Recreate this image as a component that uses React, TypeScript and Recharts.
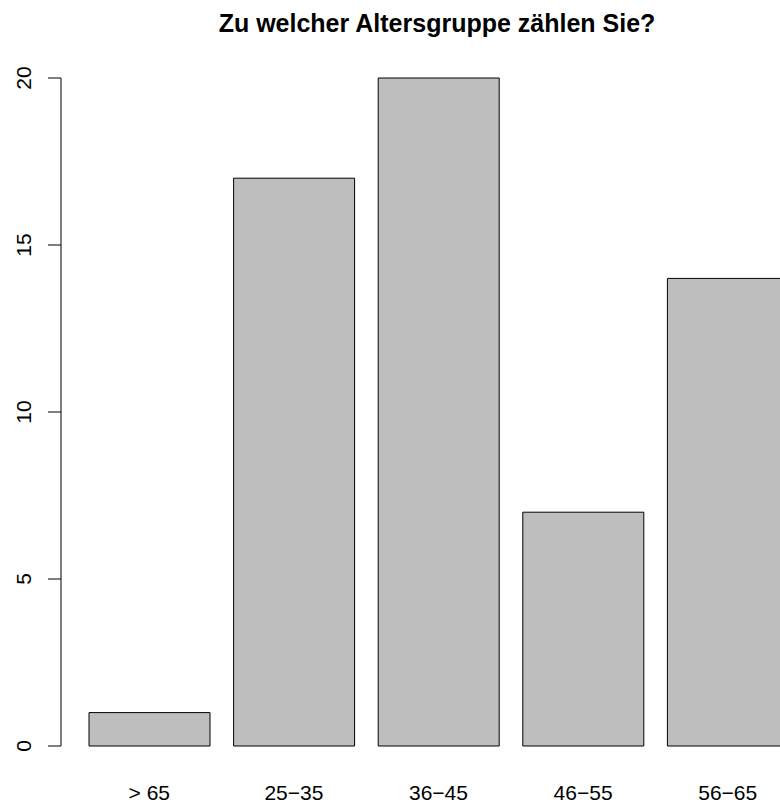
import { Bar, BarChart, XAxis, YAxis } from "recharts";

const ageGroups = ["> 65", "25−35", "36−45", "46−55", "56−65"];
const respondents = [1, 17, 20, 7, 14];
const countTicks = [0, 5, 10, 15, 20];

const TITLE = "Zu welcher Altersgruppe zählen Sie?";
const FONT = "'Liberation Sans', Arial, Helvetica, sans-serif";

const data = ageGroups.map((group, i) => ({ group, count: respondents[i] }));

function CountTick({ x, y, payload }: { x?: number; y?: number; payload?: { value: number } }) {
  if (x == null || y == null || !payload) return null;
  return (
    <text
      x={x}
      y={y}
      transform={`rotate(-90, ${x}, ${y})`}
      textAnchor="middle"
      fontSize={21}
      fontFamily={FONT}
      fill="#000"
    >
      {payload.value}
    </text>
  );
}

function GroupTick({ x, y, payload }: { x?: number; y?: number; payload?: { value: string } }) {
  if (x == null || y == null || !payload) return null;
  return (
    <text x={x} y={y} textAnchor="middle" fontSize={21} fontFamily={FONT} fill="#000">
      {payload.value}
    </text>
  );
}

export default function App() {
  return (
    <div style={{ position: "absolute", left: 0, top: 0, width: 780, height: 808, background: "#fff", overflow: "hidden" }}>
      <svg width={780} height={50} style={{ position: "absolute", left: 0, top: 0 }}>
        <text x={437} y={32} textAnchor="middle" fontSize={25} fontWeight="bold" fontFamily={FONT} fill="#000">
          {TITLE}
        </text>
      </svg>
      <BarChart
        width={780}
        height={808}
        data={data}
        margin={{ top: 78, right: -36, bottom: 0, left: 0 }}
        barCategoryGap={12}
      >
        <XAxis
          dataKey="group"
          height={62}
          axisLine={false}
          tickLine={false}
          tickSize={0}
          tickMargin={54}
          padding={{ left: 16, right: 16 }}
          interval={0}
          tick={<GroupTick />}
        />
        <YAxis
          width={61}
          domain={[0, 20]}
          ticks={countTicks}
          tickSize={13}
          tickMargin={17}
          axisLine={{ stroke: "#000", strokeWidth: 1 }}
          tickLine={{ stroke: "#000", strokeWidth: 1 }}
          tick={<CountTick />}
        />
        <Bar dataKey="count" fill="#bebebe" stroke="#000" strokeWidth={1} isAnimationActive={false} />
      </BarChart>
    </div>
  );
}
